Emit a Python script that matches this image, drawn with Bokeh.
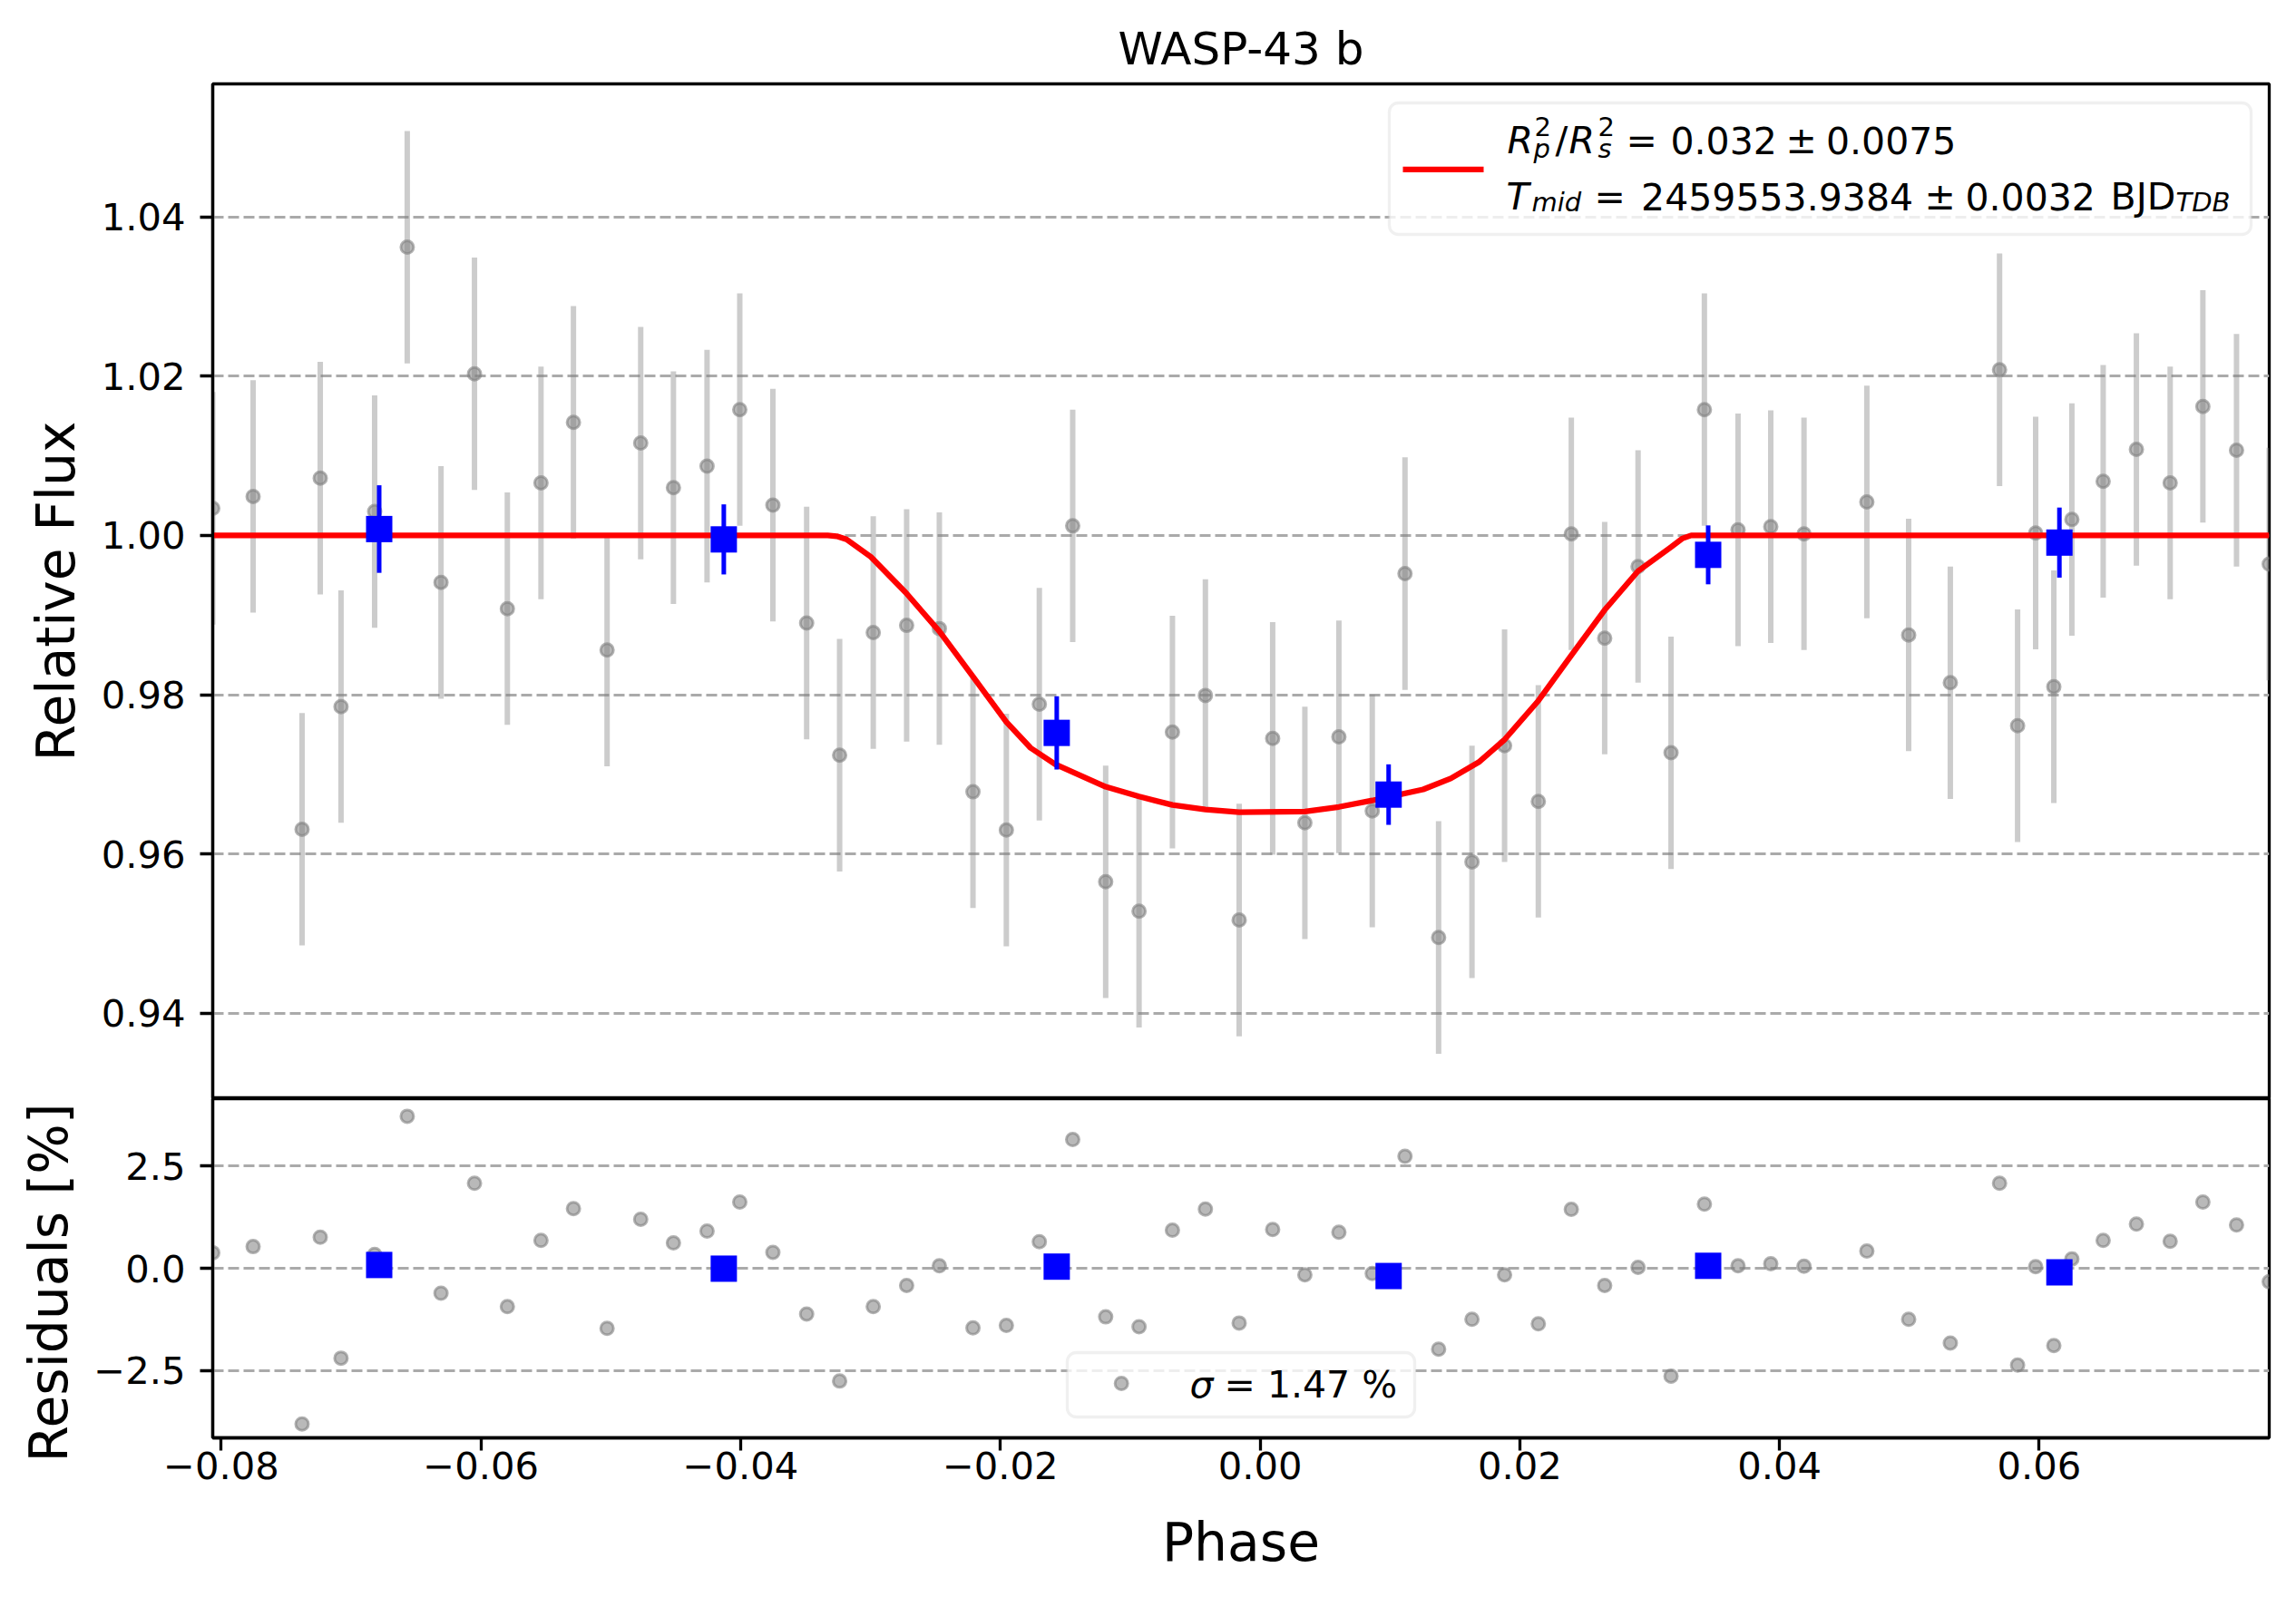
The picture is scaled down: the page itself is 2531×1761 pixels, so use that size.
from bokeh.plotting import figure
from bokeh.models import (Range1d, FixedTicker, CustomJSTickFormatter, BoxAnnotation,
                          Label, Title, ColumnDataSource)
from bokeh.layouts import column
from bokeh.embed import file_html
from bokeh.resources import INLINE

# ---------------- data ----------------
phase = [-0.08066, -0.07755, -0.07378, -0.07238, -0.07078, -0.06819, -0.06568, -0.06308,
         -0.06050, -0.05797, -0.05538, -0.05288, -0.05029, -0.04770, -0.04518, -0.04259,
         -0.04007, -0.03752, -0.03492, -0.03238, -0.02979, -0.02722, -0.02470, -0.02211,
         -0.01954, -0.01700, -0.01443, -0.01189, -0.00932, -0.00675, -0.00421, -0.00161,
         0.00097, 0.00345, 0.00607, 0.00864, 0.01116, 0.01375, 0.01632, 0.01883,
         0.02143, 0.02397, 0.02654, 0.02911, 0.03165, 0.03422, 0.03681, 0.03933,
         0.04189, 0.04673, 0.04995, 0.05316, 0.05695, 0.05834, 0.05973, 0.06113,
         0.06252, 0.06493, 0.06749, 0.07009, 0.07261, 0.07520, 0.07772]
flux = [1.0034, 1.0049, 0.9631, 1.0072, 0.9785, 1.0030, 1.0362, 0.9941,
        1.0203, 0.9908, 1.0066, 1.0142, 0.9856, 1.0116, 1.0060, 1.0087,
        1.0158, 1.0038, 0.9890, 0.9724, 0.9878, 0.9887, 0.9883, 0.9678,
        0.9630, 0.9788, 1.0012, 0.9565, 0.9528, 0.9753, 0.9799, 0.9517,
        0.9745, 0.9639, 0.9747, 0.9654, 0.9952, 0.9495, 0.9590, 0.9736,
        0.9666, 1.0002, 0.9871, 0.9961, 0.9727, 1.0158, 1.0007, 1.0011,
        1.0002, 1.0042, 0.9875, 0.9815, 1.0208, 0.9761, 1.0003, 0.9810,
        1.0020, 1.0068, 1.0108, 1.0066, 1.0162, 1.0107, 0.9964]
flux_err = 0.0146
resid = [0.38, 0.53, -3.81, 0.76, -2.20, 0.34, 3.72, -0.61,
         2.08, -0.94, 0.68, 1.46, -1.47, 1.20, 0.62, 0.91,
         1.62, 0.39, -1.12, -2.76, -0.94, -0.42, 0.06, -1.46,
         -1.40, 0.65, 3.15, -1.19, -1.43, 0.93, 1.45, -1.34,
         0.95, -0.16, 0.88, -0.13, 2.74, -1.98, -1.25, -0.16,
         -1.36, 1.44, -0.42, 0.02, -2.64, 1.57, 0.06, 0.11,
         0.05, 0.42, -1.25, -1.83, 2.08, -2.37, 0.04, -1.89,
         0.23, 0.68, 1.08, 0.66, 1.62, 1.06, -0.33]

bin_phase = [-0.06784, -0.04130, -0.01566, 0.00990, 0.03451, 0.06156]
bin_flux = [1.0008, 0.9995, 0.9752, 0.96745, 0.99756, 0.99910]
bin_err = [0.0055, 0.0044, 0.0046, 0.0038, 0.0037, 0.0044]
bin_resid = [0.08, -0.01, 0.04, -0.19, 0.06, -0.10]

model_phase = [-0.08066, -0.03330, -0.03260, -0.03185, -0.02998, -0.02730, -0.02470,
               -0.02211, -0.01954, -0.01767, -0.01579, -0.01189, -0.00932, -0.00675,
               -0.00421, -0.00161, 0.00345, 0.00607, 0.00864, 0.01256, 0.01469, 0.01683,
               0.01883, 0.02143, 0.02397, 0.02654, 0.02911, 0.03165, 0.03250, 0.03320,
               0.07772]
model_flux = [1.0, 1.0, 0.99990, 0.99951, 0.99731, 0.99284, 0.98796,
              0.98226, 0.97657, 0.97331, 0.97128, 0.96843, 0.96721, 0.96615,
              0.96558, 0.96525, 0.96533, 0.96590, 0.96671, 0.96810, 0.96948, 0.97151,
              0.97436, 0.97924, 0.98494, 0.99064, 0.99552, 0.99853, 0.99960, 1.0,
              1.0]

x_ticks = [-0.08, -0.06, -0.04, -0.02, 0.0, 0.02, 0.04, 0.06]
flux_ticks = [0.94, 0.96, 0.98, 1.00, 1.02, 1.04]
resid_ticks = [-2.5, 0.0, 2.5]

title_text = "WASP-43 b"
flux_label = "Relative Flux"
resid_label = "Residuals [%]"
phase_label = "Phase"
sigma_text = "= 1.47 %"

# ---------------- layout constants ----------------
FONT = "DejaVu Sans"
FW = 2267
FH_MAIN = 1119
FH_RES = 374
FLUX_LIM = (0.92926, 1.05671)
RES_LIM = (-4.15, 4.15)
X0, X1 = min(phase), max(phase)
FRAME_LEFT = 234          # frame left edge on the page
LABEL_DY = -15            # empirical baseline correction for Label text
TICK_FS = "41.7px"
LEG_FS = "41px"
SUB_FS = "29px"
AX_FS = "58.3px"


def fx(px):
    return X0 + (X1 - X0) * px / FW


def fy(py, lim, fh):
    return lim[1] - (lim[1] - lim[0]) * py / fh


xr = Range1d(X0, X1)


def style_common(p):
    p.background_fill_color = "white"
    p.border_fill_color = "white"
    p.outline_line_color = "black"
    p.outline_line_width = 3.3
    p.xgrid.visible = False
    p.ygrid.grid_line_color = "#aaaaaa"
    p.ygrid.grid_line_width = 3
    p.ygrid.grid_line_dash = "12 5"
    for ax in p.yaxis:
        ax.major_tick_out = 14
        ax.major_tick_in = 0
        ax.minor_tick_out = 0
        ax.minor_tick_in = 0
        ax.major_tick_line_width = 3.3
        ax.axis_line_width = 3.3
        ax.major_label_text_font = FONT
        ax.major_label_text_font_size = TICK_FS
        ax.major_label_text_color = "black"
        ax.major_label_standoff = 16
        ax.axis_label_text_font = FONT
        ax.axis_label_text_font_size = AX_FS
        ax.axis_label_text_font_style = "normal"
        ax.axis_label_text_color = "black"
        ax.axis_label_standoff = 13


# ---------------- main panel ----------------
p1 = figure(frame_width=FW, frame_height=FH_MAIN, x_range=xr,
            y_range=Range1d(*FLUX_LIM), output_backend="svg", toolbar_location=None,
            tools="", x_axis_location=None, min_border_left=FRAME_LEFT, min_border_right=20,
            min_border_top=92, min_border_bottom=0, title=title_text)
style_common(p1)
p1.title.text_font = FONT
p1.title.text_font_size = "50px"
p1.title.text_font_style = "normal"
p1.title.text_color = "black"
p1.title.align = "center"
p1.title.standoff = 19
p1.yaxis.ticker = FixedTicker(ticks=flux_ticks)
p1.yaxis.formatter = CustomJSTickFormatter(code="return tick.toFixed(2);")
p1.yaxis.axis_label = flux_label

src = ColumnDataSource(dict(phase=phase, flux=flux,
                            lo=[f - flux_err for f in flux],
                            hi=[f + flux_err for f in flux],
                            resid=resid))
bsrc = ColumnDataSource(dict(phase=bin_phase, flux=bin_flux,
                             lo=[f - e for f, e in zip(bin_flux, bin_err)],
                             hi=[f + e for f, e in zip(bin_flux, bin_err)],
                             resid=bin_resid))

PT = dict(marker="circle", size=14, fill_color="gray", fill_alpha=0.55,
          line_color="gray", line_alpha=0.6, line_width=3)

p1.segment("phase", "lo", "phase", "hi", source=src, line_color="gray",
           line_alpha=0.4, line_width=6)
p1.scatter("phase", "flux", source=src, **PT)
p1.line(model_phase, model_flux, line_color="red", line_width=6.25)
p1.segment("phase", "lo", "phase", "hi", source=bsrc, line_color="blue", line_width=5)
p1.scatter("phase", "flux", source=bsrc, marker="square", size=29,
           fill_color="blue", line_color=None)

# legend (main)
p1.add_layout(BoxAnnotation(left=fx(1297), right=fx(2247),
                            top=fy(21, FLUX_LIM, FH_MAIN), bottom=fy(166, FLUX_LIM, FH_MAIN),
                            fill_color="white", fill_alpha=0.8, line_color="#cccccc",
                            line_width=3.3, border_radius=10))
p1.line([fx(1312), fx(1401)], [fy(94.3, FLUX_LIM, FH_MAIN)] * 2, line_color="red",
        line_width=6.25, level="overlay")

legend_pieces = [
    # text, page x of glyph origin, baseline shift, size, style, line baseline (frame rel)
    ("R", 1661, 0, LEG_FS, "italic", 77),
    ("p", 1690, 9, SUB_FS, "italic", 77),
    ("2", 1691, -15, SUB_FS, "normal", 77),
    ("/", 1714, 0, LEG_FS, "normal", 77),
    ("R", 1729, 0, LEG_FS, "italic", 77),
    ("s", 1761, 9, SUB_FS, "italic", 77),
    ("2", 1761, -15, SUB_FS, "normal", 77),
    ("=", 1792, 0, LEG_FS, "normal", 77),
    ("0.032", 1841, 0, LEG_FS, "normal", 77),
    ("\u00b1", 1968, 0, LEG_FS, "normal", 77),
    ("0.0075", 2012.5, 0, LEG_FS, "normal", 77),
    ("T", 1660, 0, LEG_FS, "italic", 139.5),
    ("mid", 1688, 6, SUB_FS, "italic", 139.5),
    ("=", 1757, 0, LEG_FS, "normal", 139.5),
    ("2459553.9384", 1808.6, 0, LEG_FS, "normal", 139.5),
    ("\u00b1", 2121, 0, LEG_FS, "normal", 139.5),
    ("0.0032", 2166, 0, LEG_FS, "normal", 139.5),
    ("BJD", 2326, 0, LEG_FS, "normal", 139.5),
    ("TDB", 2398, 6, SUB_FS, "italic", 139.5),
]
for t, sx, dyo, fs, st, base in legend_pieces:
    p1.add_layout(Label(x=fx(sx - FRAME_LEFT), y=fy(base + dyo + LABEL_DY, FLUX_LIM, FH_MAIN),
                        text=t, text_font=FONT, text_font_size=fs, text_font_style=st,
                        text_baseline="alphabetic", text_align="left",
                        text_color="black", level="overlay"))

# ---------------- residual panel ----------------
p2 = figure(frame_width=FW, frame_height=FH_RES, x_range=xr,
            y_range=Range1d(*RES_LIM), output_backend="svg", toolbar_location=None,
            tools="", min_border_left=FRAME_LEFT, min_border_right=20,
            min_border_top=0, min_border_bottom=170)
style_common(p2)
p2.yaxis.ticker = FixedTicker(ticks=resid_ticks)
p2.yaxis.formatter = CustomJSTickFormatter(
    code="return (tick < -1e-9 ? '\u2212' : '') + Math.abs(tick).toFixed(1);")
xa = p2.xaxis[0]
xa.ticker = FixedTicker(ticks=x_ticks)
xa.formatter = CustomJSTickFormatter(
    code="return (tick < -1e-9 ? '\u2212' : '') + Math.abs(tick).toFixed(2);")
xa.major_tick_out = 14
xa.major_tick_in = 0
xa.minor_tick_out = 0
xa.minor_tick_in = 0
xa.major_tick_line_width = 3.3
xa.axis_line_width = 3.3
xa.major_label_text_font = FONT
xa.major_label_text_font_size = TICK_FS
xa.major_label_text_color = "black"
xa.major_label_standoff = 1
xa.axis_label = phase_label
xa.axis_label_text_font = FONT
xa.axis_label_text_font_size = AX_FS
xa.axis_label_text_font_style = "normal"
xa.axis_label_text_color = "black"
xa.axis_label_standoff = 33

# residual y-label: a side title (longer than the panel is tall, so it starts
# a little below the panel bottom to stay inside this figure's canvas)
p2.add_layout(Title(text=resid_label, align="left", offset=-27, standoff=26,
                    text_font=FONT, text_font_size=AX_FS, text_font_style="normal",
                    text_color="black"), "left")

p2.scatter("phase", "resid", source=src, **PT)
p2.scatter("phase", "resid", source=bsrc, marker="square", size=29,
           fill_color="blue", line_color=None)

# legend (residuals)
p2.add_layout(BoxAnnotation(left=fx(942), right=fx(1325),
                            top=fy(280, RES_LIM, FH_RES), bottom=fy(351, RES_LIM, FH_RES),
                            fill_color="white", fill_alpha=0.8, line_color="#cccccc",
                            line_width=3.3, border_radius=10))
p2.scatter([fx(1001.7)], [fy(314, RES_LIM, FH_RES)], level="overlay", **PT)
p2.add_layout(Label(x=fx(1077), y=fy(330.7 + LABEL_DY, RES_LIM, FH_RES), text="\u03c3",
                    text_font=FONT, text_font_size=LEG_FS, text_font_style="italic",
                    text_baseline="alphabetic", text_align="left", text_color="black",
                    level="overlay"))
p2.add_layout(Label(x=fx(1115), y=fy(330.7 + LABEL_DY, RES_LIM, FH_RES), text=sigma_text,
                    text_font=FONT, text_font_size=LEG_FS, text_font_style="normal",
                    text_baseline="alphabetic", text_align="left", text_color="black",
                    level="overlay"))

layout = column(p1, p2)
open("out.html", "w").write(file_html(layout, INLINE))
